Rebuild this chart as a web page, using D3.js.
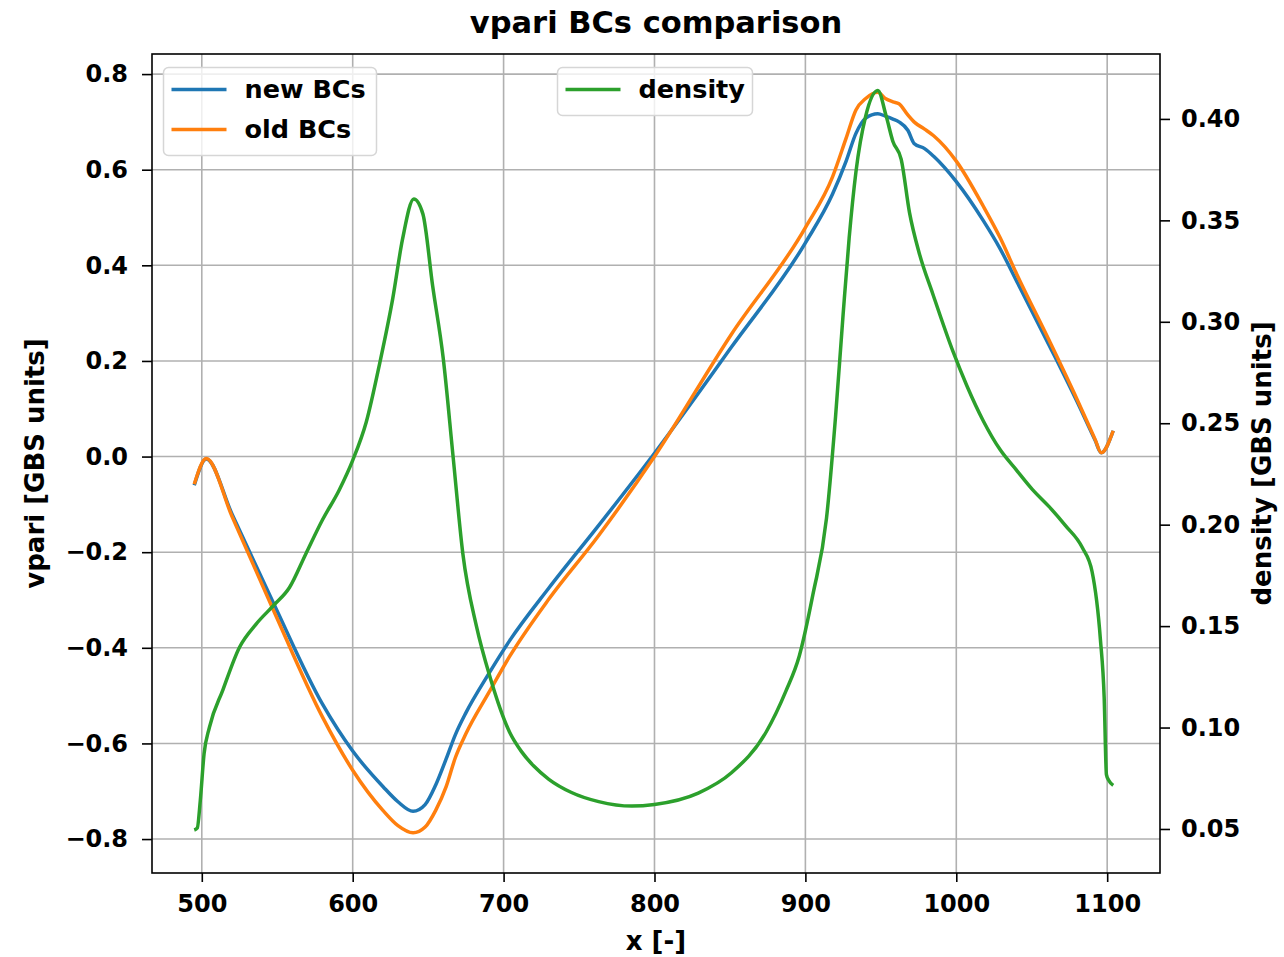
<!DOCTYPE html>
<html>
<head>
<meta charset="utf-8">
<script src="https://cdn.jsdelivr.net/npm/d3@7"></script>
<style>
  html, body { margin: 0; padding: 0; background: #fff; }
  svg text { font-family: "DejaVu Sans", sans-serif; font-weight: bold; fill: #000; }
</style>
</head>
<body>
<svg id="chart" width="1284" height="957"></svg>
<script>
var xTicks = [500, 600, 700, 800, 900, 1000, 1100];
var vpariTicks = [-0.8, -0.6, -0.4, -0.2, 0.0, 0.2, 0.4, 0.6, 0.8];
var densityTicks = [0.05, 0.10, 0.15, 0.20, 0.25, 0.30, 0.35, 0.40];

// vpari, new boundary conditions
var newBcX = [495, 503, 520, 548, 580, 600, 620, 630, 640, 648, 655, 662, 668, 675, 690, 704, 730, 763, 800, 851, 900, 918, 927, 933.5, 940, 948, 953, 958, 962, 968, 972, 979, 985, 1000, 1018, 1029, 1040, 1062, 1080, 1092, 1096, 1104];
var newBcV = [-0.060, -0.005, -0.120, -0.310, -0.518, -0.616, -0.690, -0.722, -0.742, -0.728, -0.687, -0.632, -0.582, -0.536, -0.455, -0.385, -0.275, -0.144, 0.007, 0.229, 0.447, 0.549, 0.618, 0.676, 0.708, 0.717, 0.712, 0.706, 0.700, 0.682, 0.655, 0.644, 0.628, 0.575, 0.493, 0.435, 0.367, 0.230, 0.115, 0.034, 0.008, 0.054];

// vpari, old boundary conditions
var oldBcX = [495, 503, 520, 548, 580, 600, 620, 630, 640, 648, 655, 662, 668, 675, 690, 704, 730, 763, 800, 851, 900, 918, 927, 933.5, 940, 948, 953, 958, 962, 968, 972, 979, 985, 1000, 1018, 1029, 1040, 1062, 1080, 1092, 1096, 1104];
var oldBcV = [-0.058, -0.004, -0.125, -0.325, -0.545, -0.656, -0.740, -0.772, -0.787, -0.775, -0.740, -0.690, -0.630, -0.580, -0.495, -0.418, -0.298, -0.165, 0.000, 0.256, 0.479, 0.585, 0.666, 0.725, 0.749, 0.762, 0.749, 0.742, 0.738, 0.714, 0.700, 0.685, 0.671, 0.618, 0.523, 0.458, 0.382, 0.240, 0.120, 0.036, 0.008, 0.054];

// density (right axis)
var densX = [495, 497, 499, 501.5, 505, 514, 525, 536, 548, 558, 569, 580, 591, 600, 609, 618, 626.5, 633, 640.5, 646.5, 653, 660, 666.5, 673, 682, 691, 704, 712, 720, 730, 745, 763, 785, 800, 829, 851, 874, 887, 896, 905, 914, 920, 925, 929, 933.5, 940, 948, 953.5, 958, 963.5, 969, 975.5, 984.5, 998, 1007, 1018, 1029, 1040, 1050.5, 1061.5, 1072.5, 1083.5, 1090, 1095.5, 1098, 1099.5, 1101, 1104];
var densD = [0.0495, 0.0505, 0.064, 0.087, 0.100, 0.1186, 0.1396, 0.151, 0.1605, 0.1689, 0.1857, 0.2024, 0.217, 0.2317, 0.2506, 0.2799, 0.3113, 0.3406, 0.3605, 0.3532, 0.3176, 0.282, 0.2338, 0.1857, 0.150, 0.1249, 0.0977, 0.088, 0.081, 0.0745, 0.068, 0.0635, 0.0613, 0.0621, 0.0677, 0.0777, 0.0978, 0.1178, 0.1354, 0.1656, 0.2032, 0.2534, 0.3036, 0.3412, 0.3739, 0.4015, 0.414, 0.4015, 0.3889, 0.3801, 0.3538, 0.3337, 0.3136, 0.2850, 0.2685, 0.2510, 0.2370, 0.2268, 0.2173, 0.2089, 0.1994, 0.1887, 0.1768, 0.1435, 0.1149, 0.0768, 0.074, 0.0715];

var leftLegend = ['new BCs', 'old BCs'];
var rightLegend = ['density'];

;(function() {
  var svg = d3.select('#chart');

  var left = 152, right = 1160, top = 54, bottom = 873;
  var blue = '#1f77b4', orange = '#ff7f0e', green = '#2ca02c';

  var x = d3.scaleLinear().domain([467, 1135]).range([left, right]);
  var yLeft = d3.scaleLinear().domain([-0.871, 0.842]).range([bottom, top]);
  var yRight = d3.scaleLinear().domain([0.0283, 0.432]).range([bottom, top]);

  // grid (only from the left axis, like the original)
  var grid = svg.append('g').attr('class', 'grid')
    .attr('stroke', '#b0b0b0')
    .attr('stroke-width', 1.6);

  grid.selectAll('line.gx')
    .data(xTicks)
    .enter()
    .append('line')
    .attr('x1', function(d) { return x(d); })
    .attr('x2', function(d) { return x(d); })
    .attr('y1', top)
    .attr('y2', bottom);

  grid.selectAll('line.gy')
    .data(vpariTicks)
    .enter()
    .append('line')
    .attr('x1', left)
    .attr('x2', right)
    .attr('y1', function(d) { return yLeft(d); })
    .attr('y2', function(d) { return yLeft(d); });

  function series(xs, ys) {
    return xs.map(function(v, i) { return [v, ys[i]]; });
  }

  var lineLeft = d3.line()
    .x(function(d) { return x(d[0]); })
    .y(function(d) { return yLeft(d[1]); })
    .curve(d3.curveMonotoneX);

  var lineRight = d3.line()
    .x(function(d) { return x(d[0]); })
    .y(function(d) { return yRight(d[1]); })
    .curve(d3.curveMonotoneX);

  svg.append('path')
    .datum(series(newBcX, newBcV))
    .attr('d', lineLeft)
    .attr('fill', 'none')
    .attr('stroke', blue)
    .attr('stroke-width', 3.5)
    .attr('stroke-linejoin', 'round');

  svg.append('path')
    .datum(series(oldBcX, oldBcV))
    .attr('d', lineLeft)
    .attr('fill', 'none')
    .attr('stroke', orange)
    .attr('stroke-width', 3.5)
    .attr('stroke-linejoin', 'round');

  function drawLegend(ox, oy, w, h, labels, colors) {
    var g = svg.append('g').attr('transform', 'translate(' + ox + ',' + oy + ')');
    g.append('rect')
      .attr('width', w)
      .attr('height', h)
      .attr('rx', 5)
      .attr('fill', '#fff')
      .attr('fill-opacity', 0.8)
      .attr('stroke', '#d6d6d6')
      .attr('stroke-width', 1.5);

    var item = g.selectAll('g.item')
      .data(labels)
      .enter()
      .append('g')
      .attr('transform', function(d, i) { return 'translate(0,' + (22 + i * 40) + ')'; });

    item.append('line')
      .attr('x1', 8)
      .attr('x2', 63)
      .attr('stroke', function(d, i) { return colors[i]; })
      .attr('stroke-width', 3.5);

    item.append('text')
      .attr('x', 81)
      .attr('dy', '0.35em')
      .attr('font-size', 25.5)
      .text(function(d) { return d; });
  }

  drawLegend(163.5, 67.5, 213, 88, leftLegend, [blue, orange]);

  svg.append('path')
    .datum(series(densX, densD))
    .attr('d', lineRight)
    .attr('fill', 'none')
    .attr('stroke', green)
    .attr('stroke-width', 3.5)
    .attr('stroke-linejoin', 'round');

  drawLegend(557.5, 67.5, 195, 48, rightLegend, [green]);

  // axes
  function styleAxis(g) {
    g.select('.domain').remove();
    g.selectAll('.tick line').attr('stroke', '#000').attr('stroke-width', 1.6);
    g.selectAll('.tick text')
      .attr('font-size', 24)
      .attr('font-family', '"DejaVu Sans", sans-serif')
      .attr('font-weight', 'bold')
      .attr('fill', '#000');
  }

  svg.append('g')
    .attr('transform', 'translate(0,' + bottom + ')')
    .call(d3.axisBottom(x).tickValues(xTicks).tickSize(9).tickPadding(13).tickFormat(d3.format('d')))
    .call(styleAxis);

  svg.append('g')
    .attr('transform', 'translate(' + left + ',0)')
    .call(d3.axisLeft(yLeft).tickValues(vpariTicks).tickSize(10).tickPadding(14).tickFormat(d3.format('.1f')))
    .call(styleAxis);

  svg.append('g')
    .attr('transform', 'translate(' + right + ',0)')
    .call(d3.axisRight(yRight).tickValues(densityTicks).tickSize(10).tickPadding(11).tickFormat(d3.format('.2f')))
    .call(styleAxis);

  svg.append('rect')
    .attr('x', left)
    .attr('y', top)
    .attr('width', right - left)
    .attr('height', bottom - top)
    .attr('fill', 'none')
    .attr('stroke', '#000')
    .attr('stroke-width', 1.6);

  // labels
  svg.append('text')
    .attr('x', (left + right) / 2)
    .attr('y', 33)
    .attr('text-anchor', 'middle')
    .attr('font-size', 30.5)
    .text('vpari BCs comparison');

  svg.append('text')
    .attr('x', (left + right) / 2)
    .attr('y', 950)
    .attr('text-anchor', 'middle')
    .attr('font-size', 26)
    .text('x [-]');

  svg.append('text')
    .attr('transform', 'translate(35,' + (top + bottom) / 2 + ') rotate(-90)')
    .attr('text-anchor', 'middle')
    .attr('dy', '0.35em')
    .attr('font-size', 26)
    .text('vpari [GBS units]');

  svg.append('text')
    .attr('transform', 'translate(1262,' + (top + bottom) / 2 + ') rotate(-90)')
    .attr('text-anchor', 'middle')
    .attr('dy', '0.35em')
    .attr('font-size', 26)
    .text('density [GBS units]');
})();
</script>
</body>
</html>
